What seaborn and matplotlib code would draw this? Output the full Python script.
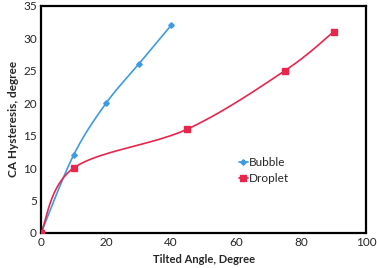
import numpy as np
import pandas as pd
import matplotlib
matplotlib.use("Agg")
import matplotlib.pyplot as plt
import seaborn as sns

# data
bubble_x = [0, 10, 20, 30, 40]
bubble_y = [0, 12, 20, 26, 32]
droplet_x = [0, 10, 45, 75, 90]
droplet_y = [0, 10, 16, 25, 31]

sns.set_style("white")
plt.rcParams['font.family'] = ['Lato', 'DejaVu Sans']


def smooth(xs, ys, n=40):
    # Excel-style smoothed line (Catmull-Rom through the points)
    p = np.column_stack([xs, ys]).astype(float)
    p = np.vstack([p[0], p, p[-1]])
    out = []
    t = np.linspace(0, 1, n)[:, None]
    for i in range(1, len(p) - 2):
        p0, p1, p2, p3 = p[i - 1], p[i], p[i + 1], p[i + 2]
        c1 = p1 + (p2 - p0) / 6
        c2 = p2 - (p3 - p1) / 6
        seg = ((1 - t) ** 3) * p1 + 3 * ((1 - t) ** 2) * t * c1 + 3 * (1 - t) * t ** 2 * c2 + t ** 3 * p2
        out.append(seg)
    out = np.vstack(out)
    return out[:, 0], out[:, 1]


fig = plt.figure(figsize=(3.77, 2.68), dpi=100)
ax = fig.add_axes([0.109, 0.131, 0.862, 0.847])

blue = "#3d9be3"
red = "#e8264c"

for xs, ys, col, mk, ms, lab in [
    (bubble_x, bubble_y, blue, "D", 2.8, "Bubble"),
    (droplet_x, droplet_y, red, "s", 4, "Droplet"),
]:
    sx, sy = smooth(xs, ys)
    ax.plot(sx, sy, color=col, lw=1.2, zorder=2)
    ax.plot(xs, ys, linestyle="none", marker=mk, ms=ms, color=col, zorder=3)
    ax.plot([], [], color=col, lw=1.2, marker=mk, ms=ms, label=lab)

ax.set_xlim(0, 100)
ax.set_ylim(0, 35)
ax.set_xticks(range(0, 101, 20))
ax.set_yticks(range(0, 36, 5))
ax.tick_params(length=0, labelsize=8.5, pad=3)
for s in ax.spines.values():
    s.set_color("black")
    s.set_linewidth(1.6)

ax.set_xlabel("Tilted Angle, Degree", fontsize=8, fontweight="bold", labelpad=4)
ax.set_ylabel("CA Hysteresis, degree", fontsize=8.5, fontweight="bold", labelpad=3)

ax.legend(loc="center left", bbox_to_anchor=(0.575, 0.275), frameon=False, fontsize=8.5,
          handlelength=0.8, handletextpad=0.1, labelspacing=0.45)

fig.savefig("out.png", dpi=100)
